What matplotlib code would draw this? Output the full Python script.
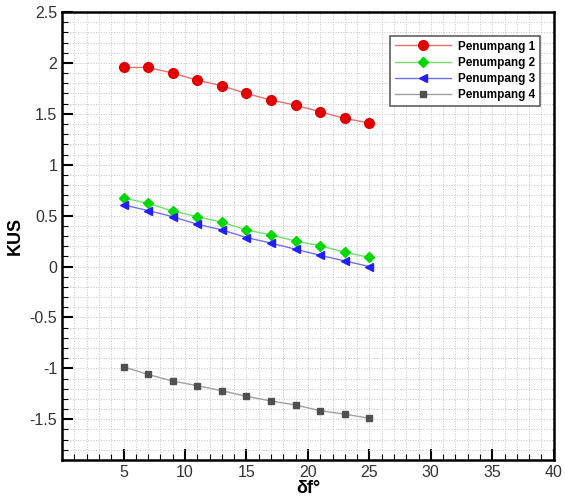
import numpy as np
import matplotlib
matplotlib.use("Agg")
import matplotlib.pyplot as plt
from matplotlib.ticker import MultipleLocator

plt.rcParams['font.family'] = ['Liberation Sans', 'DejaVu Sans']

df = [5, 7, 9, 11, 13, 15, 17, 19, 21, 23, 25]
kus1 = [1.955, 1.955, 1.90, 1.83, 1.775, 1.70, 1.635, 1.585, 1.52, 1.455, 1.41]
kus2 = [0.675, 0.62, 0.545, 0.49, 0.435, 0.36, 0.31, 0.25, 0.205, 0.14, 0.09]
kus3 = [0.605, 0.55, 0.49, 0.415, 0.36, 0.285, 0.23, 0.17, 0.11, 0.055, 0.0]
kus4 = [-0.985, -1.06, -1.125, -1.17, -1.22, -1.275, -1.32, -1.36, -1.415, -1.45, -1.49]
labels = ["Penumpang 1", "Penumpang 2", "Penumpang 3", "Penumpang 4"]

fig = plt.figure(figsize=(5.65, 5.0), dpi=100)
ax = fig.add_axes([0.11, 0.08, 0.87, 0.896])

ax.plot(df, kus1, color="#e87070", lw=1, marker="o", ms=7, mfc="#e00000", mec="#e00000", label=labels[0])
ax.plot(df, kus2, color="#70e070", lw=1, marker="D", ms=5, mfc="#00d800", mec="#00d800", label=labels[1])
ax.plot(df, kus3, color="#7070f0", lw=1, marker="<", ms=5.5, mfc="#2020ff", mec="#2020ff", label=labels[2])
ax.plot(df, kus4, color="#a0a0a0", lw=1, marker="s", ms=4.5, mfc="#505050", mec="#505050", label=labels[3])

ax.set_xlim(0, 40)
ax.set_ylim(-1.9, 2.5)
ax.xaxis.set_minor_locator(MultipleLocator(1))
ax.yaxis.set_minor_locator(MultipleLocator(0.1))
ax.set_xticks([5, 10, 15, 20, 25, 30, 35, 40])
ax.set_yticks([-1.5, -1, -0.5, 0, 0.5, 1, 1.5, 2, 2.5])
ax.set_yticklabels(["-1.5", "-1", "-0.5", "0", "0.5", "1", "1.5", "2", "2.5"])
ax.tick_params(which="major", direction="in", length=8, width=1.5, labelsize=11.5, colors="black", labelcolor="#333333")
ax.tick_params(which="minor", direction="in", length=4, width=0.8)
ax.grid(which="both", ls=":", lw=0.7, color="#c4c4c4")
ax.set_axisbelow(True)
for s in ax.spines.values():
    s.set_linewidth(1.8)

ax.set_xlabel("δf°", fontsize=13, fontweight="bold", labelpad=0)
ax.set_ylabel("KUS", fontsize=13, fontweight="bold", labelpad=4)

leg = ax.legend(loc="upper right", bbox_to_anchor=(0.985, 0.96), prop={"weight": "bold", "size": 8.5},
                fancybox=False, framealpha=1, edgecolor="#606060", handlelength=4.8, borderpad=0.4,
                labelspacing=0.35, handletextpad=0.6)
leg.get_frame().set_linewidth(1.2)

fig.savefig("out.png", dpi=100)
